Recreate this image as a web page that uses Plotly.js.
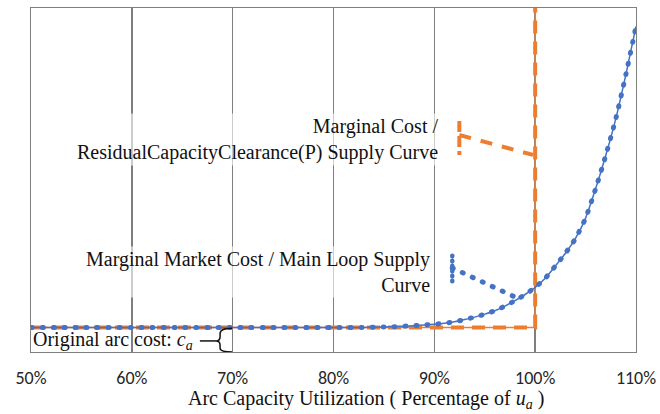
<!DOCTYPE html>
<html>
<head>
<meta charset="utf-8">
<script src="https://cdn.plot.ly/plotly-3.0.1.min.js"></script>
<style>
  html, body { margin: 0; padding: 0; background: #ffffff; }
  #chart { width: 660px; height: 414px; }
</style>
</head>
<body>
<div id="chart"></div>
<script>
// Utilization axis (percent of capacity u_a)
const xTicks = [50, 60, 70, 80, 90, 100, 110];
const tickLabels = ["50%", "60%", "70%", "80%", "90%", "100%", "110%"];
const xTitle = "Arc Capacity Utilization ( Percentage of <i>u</i><sub><i>a</i></sub> )";

// Marginal market cost / main loop supply curve (cost relative to c_a = 1)
const curveUtil = [50, 55, 60, 65, 70, 75, 80, 81, 82, 83, 84, 85, 86, 87, 88, 89, 90,
  91, 92, 93, 94, 95, 96, 97, 98, 99, 100, 101, 102, 103, 104, 105, 106, 107, 108, 109, 110];
const curveCost = [1, 1, 1, 1, 1, 1, 1.00, 1.00, 1.00, 1.00, 1.01, 1.02, 1.03, 1.05, 1.07, 1.10, 1.13,
  1.17, 1.23, 1.32, 1.42, 1.54, 1.68, 1.87, 2.09, 2.34, 2.63, 3.00, 3.50, 4.02, 4.62, 5.45, 6.65, 8.00, 9.50, 11.30, 13.25];

// Marginal cost / residual capacity clearance supply curve
const residualUtil = [50, 100, 100];
const residualCost = [1, 1, 14];

const BLUE = "#4472C4";
const ORANGE = "#ED7D31";
const SERIF = "Liberation Serif, Times New Roman, serif";

const traces = [
  { x: residualUtil, y: residualCost, mode: "lines", hoverinfo: "skip",
    line: { color: ORANGE, width: 1.5 } },
  { x: residualUtil, y: residualCost, mode: "lines", hoverinfo: "skip",
    line: { color: ORANGE, width: 4, dash: "13px,8px" } },
  { x: curveUtil, y: curveCost, mode: "lines", hoverinfo: "skip",
    line: { color: BLUE, width: 1.5, shape: "spline", smoothing: 0.6 } },
  { x: curveUtil, y: curveCost, mode: "lines", hoverinfo: "skip",
    line: { color: BLUE, width: 5, dash: "1px,10px", shape: "spline", smoothing: 0.6 } }
];

const layout = {
  width: 660,
  height: 414,
  margin: { l: 31, r: 24, t: 8, b: 62 },
  paper_bgcolor: "#ffffff",
  plot_bgcolor: "#ffffff",
  showlegend: false,
  xaxis: {
    range: [50, 110],
    tickvals: xTicks,
    ticktext: tickLabels,
    ticks: "",
    ticklabelstandoff: 9,
    tickfont: { family: "Carlito, Lato, sans-serif", size: 18, color: "#262626" },
    showgrid: true,
    gridcolor: "#7f7f7f",
    gridwidth: 1.4,
    zeroline: false,
    showline: true,
    mirror: true,
    linecolor: "#7f7f7f",
    linewidth: 1.4
  },
  yaxis: {
    range: [0, 14],
    showticklabels: false,
    ticks: "",
    showgrid: false,
    zeroline: false,
    showline: true,
    mirror: true,
    linecolor: "#7f7f7f",
    linewidth: 1.4
  },
  annotations: [
    // axis title, set slightly right of the plot centre
    { x: 0.553, y: -0.137, xref: "paper", yref: "paper", xanchor: "center", yanchor: "middle",
      showarrow: false, text: xTitle,
      font: { family: SERIF, size: 20, color: "#111111" } },
    { x: 90.6, y: 8.63, xref: "x", yref: "y", xanchor: "right", yanchor: "middle",
      align: "right", showarrow: false,
      text: "Marginal Cost /<br>ResidualCapacityClearance(P) Supply Curve",
      font: { family: SERIF, size: 20, color: "#111111" },
      bgcolor: "rgba(255,255,255,0.6)", borderpad: 1 },
    { x: 89.75, y: 3.24, xref: "x", yref: "y", xanchor: "right", yanchor: "middle",
      align: "right", showarrow: false,
      text: "Marginal Market Cost / Main Loop Supply<br>Curve",
      font: { family: SERIF, size: 20, color: "#111111" },
      bgcolor: "rgba(255,255,255,0.6)", borderpad: 1 },
    { x: 50.0, y: 0.47, xref: "x", yref: "y", xanchor: "left", yanchor: "middle",
      align: "left", showarrow: false,
      text: "Original arc cost: <i>c</i><sub><i>a</i></sub>",
      font: { family: SERIF, size: 20, color: "#111111" } }
  ],
  shapes: [
    // leader for the residual-capacity curve label
    { type: "line", xref: "x", yref: "y", x0: 92.48, y0: 9.40, x1: 92.48, y1: 8.02,
      line: { color: ORANGE, width: 4, dash: "11px,4px" } },
    { type: "line", xref: "x", yref: "y", x0: 92.48, y0: 8.83, x1: 99.8, y1: 8.02,
      line: { color: ORANGE, width: 4, dash: "12px,10px" } },
    // leader for the main-loop curve label
    { type: "line", xref: "x", yref: "y", x0: 91.78, y0: 3.92, x1: 91.78, y1: 2.70,
      line: { color: BLUE, width: 4.5, dash: "0.5px,4.5px" } },
    { type: "line", xref: "x", yref: "y", x0: 91.78, y0: 3.42, x1: 98.2, y1: 2.20,
      line: { color: BLUE, width: 5, dash: "1px,10px" } },
    // pointer and brace marking the original arc cost level
    { type: "line", xref: "x", yref: "y", x0: 66.75, y0: 0.45, x1: 68.35, y1: 0.45,
      line: { color: "#111111", width: 1.5 } },
    { type: "path", xref: "x", yref: "y",
      path: "M 69.95,0.97 Q 68.75,0.97 68.75,0.75 L 68.75,0.62 Q 68.75,0.45 68.35,0.45 Q 68.75,0.45 68.75,0.28 L 68.75,0.15 Q 68.75,0.0 69.95,0.0",
      line: { color: "#111111", width: 1.5 } }
  ]
};

Plotly.newPlot("chart", traces, layout, { staticPlot: true }).then(function () {
  // round caps turn the short dashes into dots
  const lines = document.querySelectorAll(".scatterlayer .trace path.js-line");
  if (lines[3]) lines[3].style.strokeLinecap = "round";
  const shapePaths = document.querySelectorAll(".shapelayer path");
  [2, 3].forEach(function (i) {
    if (shapePaths[i]) shapePaths[i].style.strokeLinecap = "round";
  });
});
</script>
</body>
</html>
